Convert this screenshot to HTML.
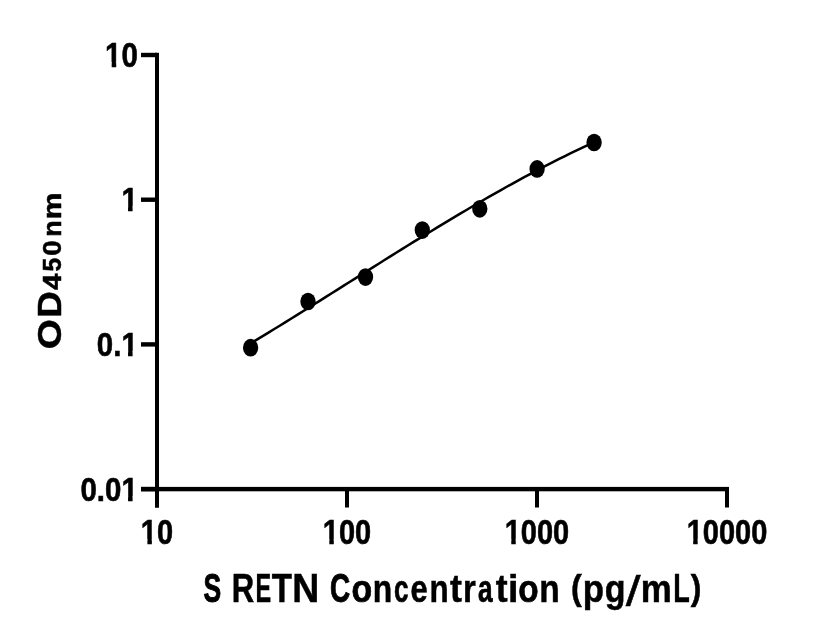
<!DOCTYPE html>
<html><head><meta charset="utf-8"><title>S RETN standard curve</title>
<style>html,body{margin:0;padding:0;background:#fff;}svg{display:block;will-change:transform;}</style></head>
<body><svg width="816" height="640" viewBox="0 0 816 640">
<rect width="816" height="640" fill="#fff"/>
<rect x="155.0" y="52.8" width="4.0" height="454.7" fill="#000"/>
<rect x="141" y="486.90000000000003" width="588.0" height="4.4" fill="#000"/>
<rect x="141" y="52.8" width="16.0" height="4.4" fill="#000"/>
<rect x="141" y="197.5" width="16.0" height="4.4" fill="#000"/>
<rect x="141" y="342.2" width="16.0" height="4.4" fill="#000"/>
<rect x="141" y="486.90000000000003" width="16.0" height="4.4" fill="#000"/>
<rect x="155.0" y="489.1" width="4.0" height="18.399999999999977" fill="#000"/>
<rect x="345.0" y="489.1" width="4.0" height="18.399999999999977" fill="#000"/>
<rect x="535.0" y="489.1" width="4.0" height="18.399999999999977" fill="#000"/>
<rect x="725.0" y="489.1" width="4.0" height="18.399999999999977" fill="#000"/>
<polyline points="250.60,343.42 256.42,339.91 262.24,336.38 268.07,332.83 273.89,329.27 279.71,325.69 285.53,322.10 291.35,318.49 297.18,314.88 303.00,311.25 308.82,307.62 314.64,303.97 320.46,300.32 326.29,296.67 332.11,293.01 337.93,289.34 343.75,285.68 349.57,282.01 355.40,278.34 361.22,274.68 367.04,271.01 372.86,267.35 378.68,263.70 384.51,260.05 390.33,256.41 396.15,252.77 401.97,249.15 407.79,245.53 413.62,241.93 419.44,238.34 425.26,234.76 431.08,231.20 436.91,227.65 442.73,224.13 448.55,220.62 454.37,217.13 460.19,213.66 466.02,210.21 471.84,206.78 477.66,203.38 483.48,200.01 489.30,196.66 495.13,193.34 500.95,190.05 506.77,186.78 512.59,183.55 518.41,180.35 524.24,177.19 530.06,174.06 535.88,170.96 541.70,167.90 547.52,164.88 553.35,161.90 559.17,158.96 564.99,156.05 570.81,153.20 576.63,150.38 582.46,147.61 588.28,144.89 594.10,142.21" fill="none" stroke="#000" stroke-width="2.5" stroke-linejoin="round"/>
<ellipse cx="250.6" cy="347.7" rx="7.65" ry="8.85" fill="#000"/>
<ellipse cx="308.0" cy="301.5" rx="7.65" ry="8.85" fill="#000"/>
<ellipse cx="365.5" cy="277.1" rx="7.65" ry="8.85" fill="#000"/>
<ellipse cx="422.3" cy="230.1" rx="7.65" ry="8.85" fill="#000"/>
<ellipse cx="479.8" cy="208.8" rx="7.65" ry="8.85" fill="#000"/>
<ellipse cx="537.1" cy="168.9" rx="7.65" ry="8.85" fill="#000"/>
<ellipse cx="594.1" cy="142.5" rx="7.65" ry="8.85" fill="#000"/>
<text transform="scale(0.8534,1)" x="161.462" y="67" font-size="34.5" text-anchor="end" stroke="#000" stroke-width="0.6" font-family="'Liberation Sans', sans-serif" font-weight="bold">10</text>
<text transform="scale(0.8660,1)" x="159.122" y="211" font-size="34.0" text-anchor="end" stroke="#000" stroke-width="0.6" font-family="'Liberation Sans', sans-serif" font-weight="bold">1</text>
<text transform="scale(0.8660,1)" x="159.122" y="356" font-size="34.0" text-anchor="end" stroke="#000" stroke-width="0.6" font-family="'Liberation Sans', sans-serif" font-weight="bold">0.1</text>
<text transform="scale(0.8660,1)" x="159.122" y="501" font-size="34.0" text-anchor="end" stroke="#000" stroke-width="0.6" font-family="'Liberation Sans', sans-serif" font-weight="bold">0.01</text>
<text transform="scale(0.8406,1)" x="186.763" y="544" font-size="34.5" text-anchor="middle" stroke="#000" stroke-width="0.6" font-family="'Liberation Sans', sans-serif" font-weight="bold">10</text>
<text transform="scale(0.8406,1)" x="412.782" y="544" font-size="34.5" text-anchor="middle" stroke="#000" stroke-width="0.6" font-family="'Liberation Sans', sans-serif" font-weight="bold">100</text>
<text transform="scale(0.8406,1)" x="638.801" y="544" font-size="34.5" text-anchor="middle" stroke="#000" stroke-width="0.6" font-family="'Liberation Sans', sans-serif" font-weight="bold">1000</text>
<text transform="scale(0.8406,1)" x="864.820" y="544" font-size="34.5" text-anchor="middle" stroke="#000" stroke-width="0.6" font-family="'Liberation Sans', sans-serif" font-weight="bold">10000</text>
<text y="602.25" font-size="40" stroke="#000" stroke-width="0.5" font-family="'Liberation Sans', sans-serif" font-weight="bold"><tspan x="203.49" y="602.25" textLength="17.65" lengthAdjust="spacingAndGlyphs" stroke-width="1.0">S</tspan> <tspan x="231.67" y="602.25" textLength="22.47" lengthAdjust="spacingAndGlyphs">R</tspan><tspan x="255.58" y="602.25" textLength="15.69" lengthAdjust="spacingAndGlyphs">E</tspan><tspan x="271.78" y="602.25" textLength="20.23" lengthAdjust="spacingAndGlyphs">T</tspan><tspan x="292.15" y="602.25" textLength="27.02" lengthAdjust="spacingAndGlyphs">N</tspan> <tspan x="329.91" y="602.25" textLength="20.16" lengthAdjust="spacingAndGlyphs" stroke-width="0.9">C</tspan><tspan x="351.53" y="602.25" textLength="20.70" lengthAdjust="spacingAndGlyphs" font-size="38.0" stroke-width="0.7">o</tspan><tspan x="372.85" y="602.25" textLength="19.48" lengthAdjust="spacingAndGlyphs" font-size="38.0">n</tspan><tspan x="394.03" y="602.25" textLength="14.48" lengthAdjust="spacingAndGlyphs" font-size="38.0" stroke-width="0.7">c</tspan><tspan x="410.49" y="602.25" textLength="17.16" lengthAdjust="spacingAndGlyphs" font-size="38.0" stroke-width="0.6">e</tspan><tspan x="429.43" y="602.25" textLength="19.16" lengthAdjust="spacingAndGlyphs" font-size="38.0">n</tspan><tspan x="450.01" y="602.25" textLength="11.92" lengthAdjust="spacingAndGlyphs" font-size="38.0">t</tspan><tspan x="462.99" y="602.25" textLength="12.76" lengthAdjust="spacingAndGlyphs" font-size="38.0">r</tspan><tspan x="477.88" y="602.25" textLength="14.60" lengthAdjust="spacingAndGlyphs" font-size="38.0" stroke-width="0.7">a</tspan><tspan x="495.71" y="602.25" textLength="11.87" lengthAdjust="spacingAndGlyphs" font-size="38.0">t</tspan><tspan x="507.88" y="602.25" textLength="10.43" lengthAdjust="spacingAndGlyphs" font-size="38.0">i</tspan><tspan x="518.35" y="602.25" textLength="20.35" lengthAdjust="spacingAndGlyphs" font-size="38.0" stroke-width="0.7">o</tspan><tspan x="539.34" y="602.25" textLength="20.49" lengthAdjust="spacingAndGlyphs" font-size="38.0">n</tspan> <tspan x="571.04" y="600.25" textLength="10.74" lengthAdjust="spacingAndGlyphs" font-size="35.1">(</tspan><tspan x="582.65" y="602.25" textLength="21.27" lengthAdjust="spacingAndGlyphs" font-size="38.0">p</tspan><tspan x="604.76" y="602.25" textLength="20.77" lengthAdjust="spacingAndGlyphs" font-size="38.0">g</tspan><tspan x="625.75" y="606" textLength="14.80" lengthAdjust="spacingAndGlyphs" font-size="43.3" font-weight="normal">/</tspan><tspan x="640.85" y="602.25" textLength="31.07" lengthAdjust="spacingAndGlyphs" font-size="38.0">m</tspan><tspan x="673.34" y="602.25" textLength="16.55" lengthAdjust="spacingAndGlyphs">L</tspan><tspan x="690.72" y="600.25" textLength="10.62" lengthAdjust="spacingAndGlyphs" font-size="35.1">)</tspan></text>
<g transform="translate(60.75,350.0) rotate(-90)"><text y="0" stroke="#000" stroke-width="0.5" font-family="'Liberation Sans', sans-serif" font-weight="bold"><tspan x="0.66" font-size="33.8" textLength="30.11" lengthAdjust="spacingAndGlyphs">O</tspan><tspan x="32.18" font-size="33.8" textLength="26.61" lengthAdjust="spacingAndGlyphs">D</tspan><tspan x="59.91" font-size="24.9" textLength="16.30" lengthAdjust="spacingAndGlyphs">4</tspan><tspan x="78.40" font-size="24.9" textLength="13.64" lengthAdjust="spacingAndGlyphs">5</tspan><tspan x="94.25" font-size="24.9" textLength="15.44" lengthAdjust="spacingAndGlyphs">0</tspan><tspan x="113.17" font-size="24.9" textLength="16.51" lengthAdjust="spacingAndGlyphs">n</tspan><tspan x="130.78" font-size="24.9" textLength="26.51" lengthAdjust="spacingAndGlyphs">m</tspan></text></g>
<rect x="105.77" y="62.10" width="5.90" height="6.40" fill="#fff"/>
<rect x="116.21" y="62.10" width="5.61" height="6.40" fill="#fff"/>
<rect x="122.14" y="206.10" width="5.90" height="6.40" fill="#fff"/>
<rect x="132.59" y="206.10" width="6.71" height="6.40" fill="#fff"/>
<rect x="122.14" y="351.10" width="5.90" height="6.40" fill="#fff"/>
<rect x="132.59" y="351.10" width="6.71" height="6.40" fill="#fff"/>
<rect x="122.14" y="496.10" width="5.90" height="6.40" fill="#fff"/>
<rect x="132.59" y="496.10" width="6.71" height="6.40" fill="#fff"/>
<rect x="141.58" y="539.10" width="5.81" height="6.40" fill="#fff"/>
<rect x="151.87" y="539.10" width="5.53" height="6.40" fill="#fff"/>
<rect x="323.51" y="539.10" width="5.81" height="6.40" fill="#fff"/>
<rect x="333.80" y="539.10" width="5.53" height="6.40" fill="#fff"/>
<rect x="505.45" y="539.10" width="5.81" height="6.40" fill="#fff"/>
<rect x="515.74" y="539.10" width="5.53" height="6.40" fill="#fff"/>
<rect x="687.38" y="539.10" width="5.81" height="6.40" fill="#fff"/>
<rect x="697.67" y="539.10" width="5.53" height="6.40" fill="#fff"/>
</svg></body></html>
